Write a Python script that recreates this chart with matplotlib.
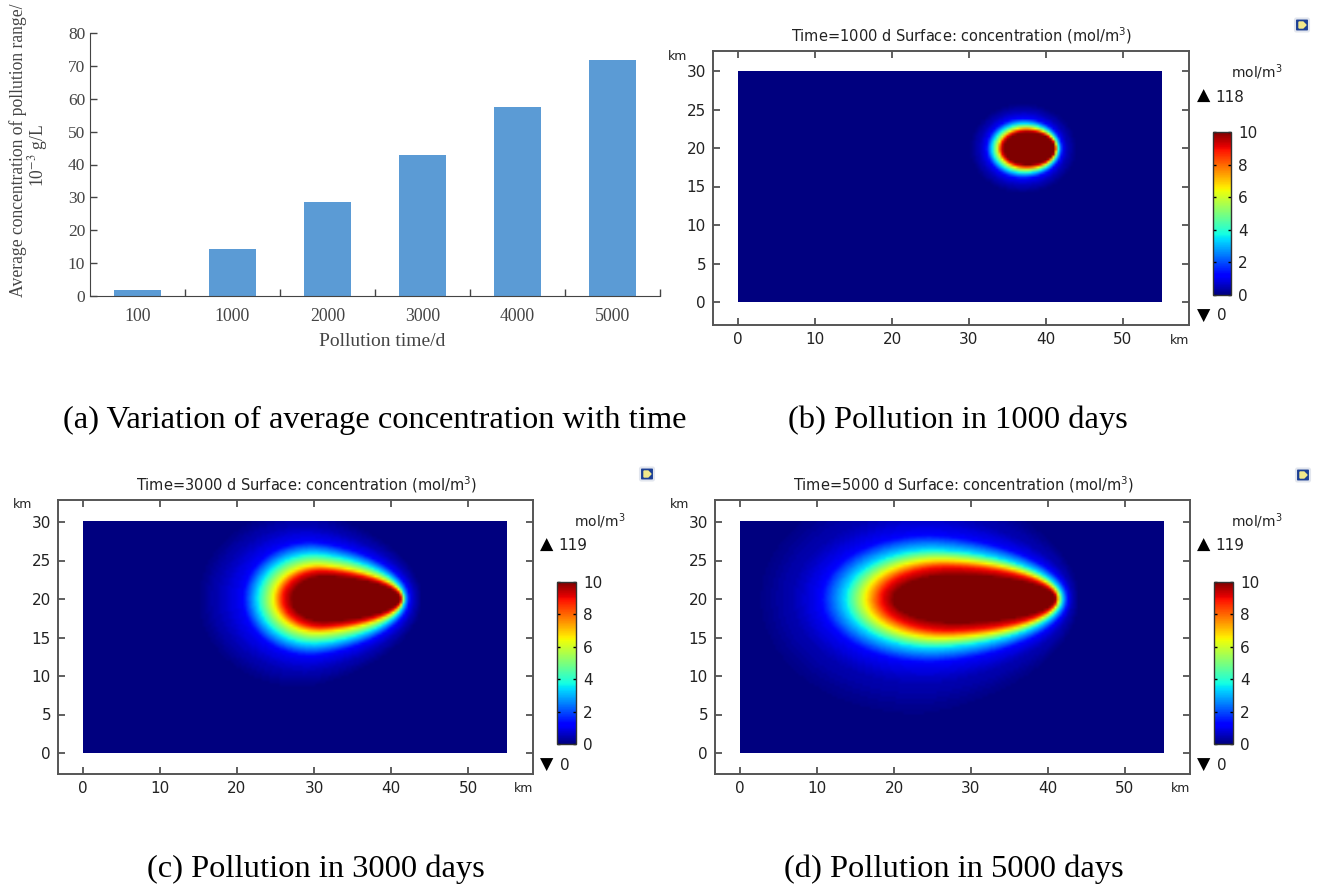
import numpy as np
import matplotlib
matplotlib.use("Agg")
import matplotlib.pyplot as plt
from matplotlib.colors import Normalize
from matplotlib.cm import ScalarMappable
from matplotlib.patches import FancyBboxPatch

W, H = 1317, 885

# --- Bar chart data --- #
times = ["100", "1000", "2000", "3000", "4000", "5000"]
avg_conc = [1.7, 14.3, 28.6, 43.0, 57.4, 71.7]

# --- Plume outlines (km), one row per colour level --- #
levels = [0.1, 0.5, 1.1, 3.5, 6.5, 8.9, 9.9]

left_b = [30.2, 31.3, 32.2, 33.0, 33.8, 34.1, 34.5]
right_b = [43.9, 42.8, 42.2, 41.7, 41.4, 41.3, 41.2]
half_b = [5.8, 4.9, 4.0, 3.25, 2.7, 2.4, 2.15]
peak_b = [37.0, 37.0, 37.0, 37.2, 37.4, 37.5, 37.6]
tip_b = [2.0, 2.0, 2.0, 2.0, 2.0, 2.0, 2.0]

left_c = [15.0, 17.5, 20.6, 22.6, 24.7, 25.9, 27.0]
right_c = [44.0, 43.2, 42.5, 41.8, 41.6, 41.4, 41.2]
half_c = [11.5, 9.5, 7.6, 5.9, 4.4, 3.7, 3.0]
peak_c = [28.5, 29.0, 29.5, 30.0, 30.5, 31.0, 31.5]
tip_c = [1.4, 1.4, 1.5, 1.5, 1.5, 1.5, 1.5]

left_d = [2.6, 6.9, 10.2, 13.6, 16.2, 18.2, 19.7]
right_d = [44.0, 43.2, 42.7, 41.9, 41.4, 41.2, 41.0]
half_d = [15.0, 11.0, 8.5, 6.4, 5.1, 4.2, 3.2]
peak_d = [23.0, 24.0, 24.5, 25.0, 26.0, 27.0, 28.0]
tip_d = [1.5, 1.5, 1.6, 1.7, 1.8, 1.8, 1.8]

serif = "Liberation Serif"


def px_axes(fig, x0, y0, x1, y1, **kw):
    # axes from pixel box, y measured from top
    return fig.add_axes([x0 / W, 1 - y1 / H, (x1 - x0) / W, (y1 - y0) / H], **kw)


def plume_field(left, right, half, peak, tip):
    xs = np.linspace(0, 55, 166)
    ys = np.linspace(0, 30, 90)
    X, Y = np.meshgrid(xs, ys)
    field = np.zeros_like(X)
    # paint nested outlines from weak to strong
    for lev in np.linspace(0.02, 10, 150):
        l = np.interp(lev, levels, left)
        r = np.interp(lev, levels, right)
        h = np.interp(lev, levels, half)
        m = np.interp(lev, levels, peak)
        p = np.interp(lev, levels, tip)
        t = np.where(X < m, (m - X) / (m - l), (X - m) / (r - m))
        e = np.where(X < m, 2.0, p)
        g = h * np.sqrt(np.clip(1 - np.clip(t, 0, 1) ** e, 0, 1))
        field[np.abs(Y - 20) < g] = lev
    return field


def map_panel(fig, box, x0px, y0px, scale, field, title, tmax, cbar_box, label_x):
    left_px, top_px, right_px, bot_px = box
    ax = px_axes(fig, *box)
    ax.imshow(field, cmap="jet", vmin=0, vmax=10, origin="lower", extent=[0, 55, 0, 30],
              aspect="auto", interpolation="bilinear")
    ax.set_xlim((left_px - x0px) / scale, (right_px - x0px) / scale)
    ax.set_ylim((y0px - bot_px) / scale, (y0px - top_px) / scale)
    ax.set_xticks(range(0, 51, 10))
    ax.set_yticks(range(0, 31, 5))
    ax.tick_params(direction="in", length=5, width=1.2, color="#444444", top=True, right=True,
                   labelsize=11, labelcolor="#222222", pad=5)
    for s in ax.spines.values():
        s.set_color("#555555")
        s.set_linewidth(1.4)

    cax = px_axes(fig, *cbar_box)
    cb = fig.colorbar(ScalarMappable(Normalize(0, 10), "jet"), cax=cax, ticks=range(0, 11, 2))
    cb.ax.tick_params(direction="in", length=2, width=1, left=True, right=True, labelsize=11,
                      labelcolor="#222222", pad=5)
    cb.outline.set_edgecolor("#333333")
    cb.outline.set_linewidth(1.0)

    # overlay texts, positions in figure pixels
    ov.text((left_px + right_px) / 2 + 11, top_px - 15, title, fontsize=10.5, ha="center", va="center",
            color="#222222")
    ov.text(left_px - 45, top_px + 5, "km", fontsize=9, ha="left", va="center", color="#222222")
    ov.text(right_px - 9, bot_px + 15, "km", fontsize=9, ha="center", va="center", color="#222222")
    ov.text(label_x + 15, top_px + 21, "mol/m$^3$", fontsize=10, ha="center", va="center", color="#222222")
    ov.text(label_x - 38, top_px + 45, "▲", fontsize=12.5, ha="center", va="center", color="black")
    ov.text(label_x - 27, top_px + 46, tmax, fontsize=11, ha="left", va="center", color="#222222")
    ov.text(label_x - 38, bot_px - 9, "▼", fontsize=12.5, ha="center", va="center", color="black")
    ov.text(label_x - 25, bot_px - 9, "0", fontsize=11, ha="left", va="center", color="#222222")


def icon(cx, cy):
    ov.add_patch(FancyBboxPatch((cx - 5.5, cy - 5), 11, 10, boxstyle="round,pad=1.5", fc="#1c3f94",
                                ec="#e2e6ee", lw=1.5))
    ov.fill([cx - 3, cx + 1, cx + 4, cx + 1, cx - 3], [cy - 3, cy - 3, cy, cy + 3, cy + 3], color="#f2e88a")


fig = plt.figure(figsize=(W / 100, H / 100), dpi=100)
ov = fig.add_axes([0, 0, 1, 1], zorder=5)
ov.set_xlim(0, W)
ov.set_ylim(H, 0)
ov.axis("off")
ov.patch.set_alpha(0)

# --- (a) bars --- #
ax = px_axes(fig, 90, 33, 660, 296)
pos = np.arange(len(times))
ax.bar(pos, avg_conc, width=0.5, color="#5B9BD5")
ax.set_xlim(-0.5, 5.5)
ax.set_ylim(0, 80)
ax.set_xticks(pos + 0.5)
ax.set_xticklabels([""] * 6)
ax.set_yticks(range(0, 81, 10))
ax.tick_params(direction="in", length=5, width=1, color="#444444", labelsize=12.5, labelcolor="#444444")
plt.setp(ax.get_yticklabels(), family=serif)
for s in ["top", "right"]:
    ax.spines[s].set_visible(False)
for s in ["left", "bottom"]:
    ax.spines[s].set_color("#444444")
for p, lab in zip(pos, times):
    ax.annotate(lab, (p, 0), xytext=(0, -14.5), textcoords="offset points", ha="center", va="center",
                fontsize=12.8, family=serif, color="#444444")
ov.text(382, 342, "Pollution time/d", fontsize=14, family=serif, ha="center", va="center", color="#444444")
ov.text(18, 150, "Average concentration of pollution range/", fontsize=12.7, family=serif, rotation=90,
        ha="center", va="center", color="#444444")
ov.text(38, 155, "10$^{-3}$ g/L", fontsize=12.7, family=serif, math_fontfamily="stix", rotation=90,
        ha="center", va="center", color="#444444")

# --- (b)(c)(d) maps --- #
map_panel(fig, (713, 51, 1189, 325), 738, 302, 7.7, plume_field(left_b, right_b, half_b, peak_b, tip_b),
          "Time=1000 d Surface: concentration (mol/m$^3$)", "118", (1213, 132, 1231, 295), 1242)
map_panel(fig, (58, 500, 533, 774), 83, 753, 7.7, plume_field(left_c, right_c, half_c, peak_c, tip_c),
          "Time=3000 d Surface: concentration (mol/m$^3$)", "119", (557, 582, 576, 744), 585)
map_panel(fig, (715, 500, 1190, 774), 740, 753, 7.7, plume_field(left_d, right_d, half_d, peak_d, tip_d),
          "Time=5000 d Surface: concentration (mol/m$^3$)", "119", (1214, 582, 1233, 744), 1242)

icon(1302, 25)
icon(647, 474)
icon(1303, 475)

# --- captions --- #
cap = dict(fontsize=23.4, family=serif, ha="center", va="center", color="black")
ov.text(375, 420, "(a) Variation of average concentration with time", **cap)
ov.text(958, 420, "(b) Pollution in 1000 days", **cap)
ov.text(316, 869, "(c) Pollution in 3000 days", **cap)
ov.text(954, 869, "(d) Pollution in 5000 days", **cap)

fig.savefig("out.png", dpi=100)
